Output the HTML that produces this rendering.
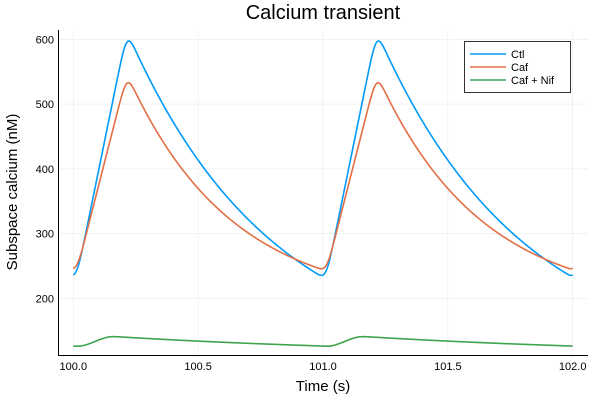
<!DOCTYPE html>
<html><head><meta charset="utf-8"><style>
body{margin:0;background:#fff}
svg{display:block;font-family:"Liberation Sans","DejaVu Sans",sans-serif}
</style></head><body>
<svg id="s" width="600" height="400" viewBox="0 0 600 400">
<rect width="600" height="400" fill="#fff"/>
<g id="grid" stroke="#000" stroke-opacity="0.08" stroke-width="0.6"></g>
<g id="series" fill="none" stroke-width="1.6"></g>
<line x1="58.5" y1="30" x2="58.5" y2="355.5" stroke="#000" stroke-width="1"/>
<line x1="58" y1="355.5" x2="588" y2="355.5" stroke="#000" stroke-width="1"/>
<g id="ticks" font-size="11" fill="#000"></g>
<text x="323" y="19" font-size="20" text-anchor="middle">Calcium transient</text>
<text x="323" y="391" font-size="15" text-anchor="middle">Time (s)</text>
<text transform="translate(17,192) rotate(-90)" font-size="15" text-anchor="middle">Subspace calcium (nM)</text>
<rect x="464.5" y="41.5" width="106" height="51" fill="#fff" stroke="#000" stroke-width="0.8"/>
<line x1="470" y1="54" x2="506" y2="54" stroke="#009AFA" stroke-width="1.6"/>
<line x1="470" y1="67" x2="506" y2="67" stroke="#E26F46" stroke-width="1.6"/>
<line x1="470" y1="80" x2="506" y2="80" stroke="#3EA44E" stroke-width="1.6"/>
<text x="511" y="58" font-size="11">Ctl</text>
<text x="511" y="71" font-size="11">Caf</text>
<text x="511" y="84" font-size="11">Caf + Nif</text>
</svg>
<script>
var X=function(t){return 73.3+(t-100)*249.7},Y=function(c){return 298.3-(c-200)*0.6475};
var ns="http://www.w3.org/2000/svg";
function el(p,n,a,txt){var e=document.createElementNS(ns,n);for(var k in a)e.setAttribute(k,a[k]);if(txt)e.textContent=txt;document.getElementById(p).appendChild(e);}
[100,100.5,101,101.5,102].forEach(function(t){el("grid","line",{x1:X(t),x2:X(t),y1:30,y2:355});el("ticks","text",{x:X(t),y:370,"text-anchor":"middle"},t.toFixed(1));});
[200,300,400,500,600].forEach(function(c){el("grid","line",{x1:59,x2:588,y1:Y(c),y2:Y(c)});el("ticks","text",{x:54,y:Y(c)+4,"text-anchor":"end"},String(c));});
function mk(start,peak,b,tau,t0,tp){var A=peak-b;return function(t){t=((t%1)+1)%1;if(t<t0){return b+A*Math.exp(-(t+1-tp)/tau);}if(t<tp){return start+(peak-start)*(t-t0)/(tp-t0);}return b+A*Math.exp(-(t-tp)/tau);}}
var ctl=mk(229,612,100,0.58,0.012,0.215),caf=mk(239,546,190,0.416,0.012,0.215);
function nifr(t){t=((t%1)+1)%1;if(t<0.03)return 110+31*Math.exp(-(t+1-0.14)/1.3);if(t<0.14){return 124.5+17*(t-0.03)/0.11;}return 110+31.5*Math.exp(-(t-0.14)/1.3);}
function smooth(f,sig){var k=[],ks=0;for(var j=-60;j<=60;j++){var w=Math.exp(-0.5*Math.pow(j*0.001/sig,2));k.push(w);ks+=w;}return function(t){var s=0;for(var j=-60;j<=60;j++)s+=k[j+60]*f(t+j*0.001);return s/ks;};}
function path(f,col){var d="";for(var i=0;i<=2000;i+=2){var t=i/1000;var c=f(t);d+=(i?"L":"M")+X(100+t).toFixed(2)+","+Y(c).toFixed(2);}el("series","path",{d:d,stroke:col});}
path(smooth(ctl,0.015),"#009AFA");path(smooth(caf,0.015),"#E26F46");path(smooth(nifr,0.02),"#3EA44E");
</script>
</body></html>
